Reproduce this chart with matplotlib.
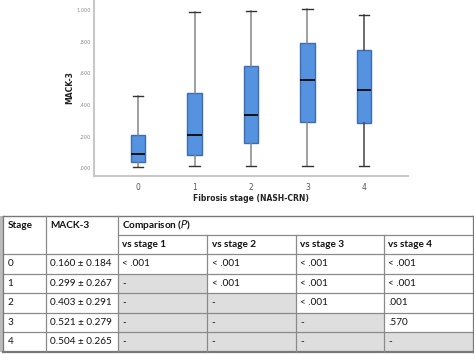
import matplotlib
matplotlib.use("Agg")
import matplotlib.pyplot as plt
from matplotlib.patches import Rectangle

# ---------------- data ----------------
stages = ["0", "1", "2", "3", "4"]
whislo = [0.004, 0.011, 0.013, 0.011, 0.015]
q1 = [0.038, 0.082, 0.161, 0.288, 0.285]
med = [0.091, 0.209, 0.334, 0.554, 0.493]
q3 = [0.207, 0.476, 0.645, 0.789, 0.746]
whishi = [0.457, 0.987, 0.996, 1.004, 0.970]
ytick_vals = [0.0, 0.2, 0.4, 0.6, 0.8, 1.0]
ytick_labels = [",000", ",200", ",400", ",600", ",800", "1,000"]

header1 = ["Stage", "MACK-3", "Comparison ($\\mathit{P}$)"]
header2 = ["vs stage 1", "vs stage 2", "vs stage 3", "vs stage 4"]
row_stage = ["0", "1", "2", "3", "4"]
row_mack = ["0.160 ± 0.184", "0.299 ± 0.267", "0.403 ± 0.291", "0.521 ± 0.279", "0.504 ± 0.265"]
row_p = [
    ["< .001", "< .001", "< .001", "< .001"],
    ["-", "< .001", "< .001", "< .001"],
    ["-", "-", "< .001", ".001"],
    ["-", "-", "-", ".570"],
    ["-", "-", "-", "-"],
]

W, H = 474, 354
fig = plt.figure(figsize=(W / 100, H / 100), dpi=100)

# ---------------- box plot ----------------
ax = fig.add_axes([94 / W, 1 - 176 / H, (408 - 94) / W, 176 / H])
stats = [dict(med=med[i], q1=q1[i], q3=q3[i], whislo=whislo[i], whishi=whishi[i],
              fliers=[], label=stages[i]) for i in range(len(stages))]
pos = list(range(len(stages)))
bp = ax.bxp(stats, positions=pos, widths=0.25, patch_artist=True, showfliers=False,
            boxprops=dict(facecolor="#5592e0", edgecolor="#3d6db0", linewidth=1.0),
            medianprops=dict(color="#111111", linewidth=1.4),
            capprops=dict(color="#333333", linewidth=1.0),
            whiskerprops=dict(color="#858585", linewidth=1.1))
for c in bp["caps"]:
    x = c.get_xdata()
    xm = (x[0] + x[1]) / 2
    c.set_xdata([xm - 0.09, xm + 0.09])
for w in bp["whiskers"][8:]:
    w.set_color("#444444")

ax.set_xlim(-0.78, 4.78)
ax.set_ylim(-0.0506, 1.063)
ax.set_yticks(ytick_vals)
ax.set_yticklabels(ytick_labels, fontsize=3.6, color="#8a8a8a")
ax.set_xticks(pos)
ax.set_xticklabels(stages, fontsize=5.5, color="#555555")
ax.tick_params(length=0, pad=2)
ax.tick_params(axis="x", pad=5)
for s in ["top", "right"]:
    ax.spines[s].set_visible(False)
for s in ["left", "bottom"]:
    ax.spines[s].set_color("#c8c8c8")
    ax.spines[s].set_linewidth(1.5)
ax.set_ylabel("MACK-3", fontsize=5.5, fontweight="bold", color="#222222", labelpad=2)
ax.set_xlabel("Fibrosis stage (NASH-CRN)", fontsize=5.5, fontweight="bold",
              color="#222222", labelpad=1.5)

# ---------------- table ----------------
tx = fig.add_axes([0, 0, 1, 1], zorder=-1)
tx.set_xlim(0, W)
tx.set_ylim(H, 0)
tx.axis("off")

cols = [3, 46, 118, 207.3, 295.7, 384, 473]
rows = [216, 235, 254, 273.5, 293, 312.5, 332, 351.5]
fam = ["Lato", "DejaVu Sans"]
fs = 7.2
gray = "#dedede"
lc = "#8a8a8a"

# gray shading
for r in range(5):
    for c in range(4):
        if row_p[r][c] == "-":
            tx.add_patch(Rectangle((cols[2 + c], rows[2 + r]), cols[3 + c] - cols[2 + c],
                                   rows[3 + r] - rows[2 + r], facecolor=gray, edgecolor="none"))
tx.add_patch(Rectangle((0, rows[0]), 3, rows[-1] - rows[0], facecolor="#bbbbbb", edgecolor="none"))

# horizontal lines
tx.plot([cols[0], cols[-1]], [rows[0], rows[0]], color="#777777", lw=1.0)
tx.plot([cols[2], cols[-1]], [rows[1], rows[1]], color=lc, lw=0.9)
for y in rows[2:-1]:
    tx.plot([cols[0], cols[-1]], [y, y], color=lc, lw=0.9)
tx.plot([cols[0], cols[-1]], [rows[-1], rows[-1]], color="#777777", lw=1.6)
# vertical lines
for i, x in enumerate(cols):
    top = rows[1] if i in (3, 4, 5) else rows[0]
    tx.plot([x, x], [top, rows[-1]], color=lc if i not in (0, 6) else "#777777", lw=0.9)

pad = 4.5
def cell_text(x, y0, y1, s, bold=False):
    tx.text(x + pad, (y0 + y1) / 2, s, fontsize=fs, family=fam, va="center", ha="left",
            fontweight="bold" if bold else "normal", color="#111111")

for i, s in enumerate(header1):
    cell_text(cols[i], rows[0], rows[1], s, bold=True)
for i, s in enumerate(header2):
    cell_text(cols[2 + i], rows[1], rows[2], s, bold=True)
for r in range(5):
    y0, y1 = rows[2 + r], rows[3 + r]
    cell_text(cols[0], y0, y1, row_stage[r])
    cell_text(cols[1], y0, y1, row_mack[r])
    for c in range(4):
        cell_text(cols[2 + c], y0, y1, row_p[r][c])

fig.savefig("out.png", dpi=100)
